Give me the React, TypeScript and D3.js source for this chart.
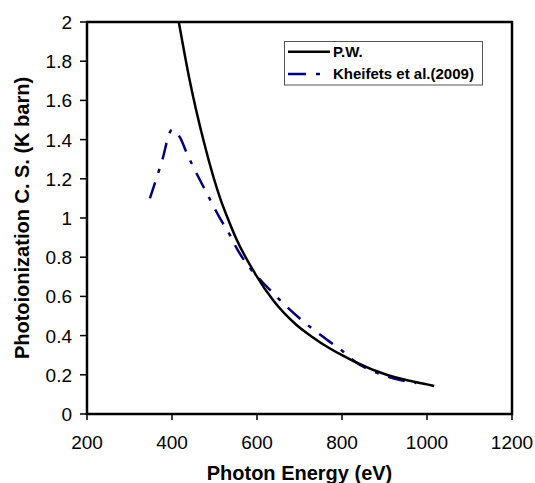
import React from "react";
import * as d3 from "d3";

const pwEnergy = [416, 440, 476, 515, 529, 552, 595, 638, 693, 732, 748, 800, 827, 905, 1000, 1017];
const pwValue = [2.0, 1.72, 1.38, 1.09, 1.01, 0.89, 0.718, 0.58, 0.454, 0.39, 0.366, 0.3, 0.27, 0.2, 0.151, 0.143];

const khEnergy = [348, 375, 400, 419, 435, 482, 513, 537, 548, 585, 623, 678, 729, 764, 803, 831, 885, 937, 975];
const khValue = [1.1, 1.28, 1.45, 1.41, 1.33, 1.126, 0.998, 0.91, 0.862, 0.74, 0.65, 0.531, 0.437, 0.38, 0.318, 0.267, 0.208, 0.173, 0.158];

const xTicks = [200, 400, 600, 800, 1000, 1200];
const yTicks = [0, 0.2, 0.4, 0.6, 0.8, 1, 1.2, 1.4, 1.6, 1.8, 2];

const seriesNames = ["P.W.", "Kheifets et al.(2009)"];
const xTitle = "Photon Energy (eV)";
const yTitle = "Photoionization C. S. (K barn)";

const W = 535;
const H = 483;
const left = 87;
const right = 512;
const top = 22;
const bottom = 414;
const FONT = "'Liberation Sans', Arial, sans-serif";
const NAVY = "#000080";
const DASH = "17,10,4,10";

export default function App() {
  const x = d3.scaleLinear().domain([200, 1200]).range([left, right]);
  const y = d3.scaleLinear().domain([0, 2]).range([bottom, top]);

  const line = d3
    .line<[number, number]>()
    .x((d) => x(d[0]))
    .y((d) => y(d[1]))
    .curve(d3.curveMonotoneX);

  const pwData = pwEnergy.map((e, i) => [e, pwValue[i]] as [number, number]);
  const khData = khEnergy.map((e, i) => [e, khValue[i]] as [number, number]);

  return (
    <svg
      width={W}
      height={H}
      style={{ position: "absolute", left: 0, top: 0, background: "#fff" }}
      fontFamily={FONT}
    >
      <rect x={0} y={0} width={W} height={H} fill="#fff" />
      {yTicks.map((t) => (
        <g key={"y" + t}>
          <line x1={80} x2={left} y1={y(t)} y2={y(t)} stroke="#000" strokeWidth={1.5} />
          <text x={72} y={y(t) + 7} textAnchor="end" fontSize={19} fill="#000">
            {String(+t.toFixed(1))}
          </text>
        </g>
      ))}
      {xTicks.map((t) => (
        <g key={"x" + t}>
          <line x1={x(t)} x2={x(t)} y1={bottom} y2={bottom + 6} stroke="#000" strokeWidth={1.5} />
          <text x={x(t)} y={449} textAnchor="middle" fontSize={19} fill="#000">
            {t}
          </text>
        </g>
      ))}
      <path d={line(khData) || ""} fill="none" stroke={NAVY} strokeWidth={2.5} strokeDasharray={DASH} />
      <path d={line(pwData) || ""} fill="none" stroke="#000" strokeWidth={2.5} />
      <rect x={left} y={top} width={right - left} height={bottom - top} fill="none" stroke="#000" strokeWidth={2.5} />
      <rect x={284.5} y={41.5} width={198} height={43.5} fill="#fff" stroke="#555" strokeWidth={1} />
      <line x1={288} x2={330} y1={51.7} y2={51.7} stroke="#000" strokeWidth={2.5} />
      <text x={333} y={57.3} fontSize={15} fontWeight="bold" fill="#000">
        {seriesNames[0]}
      </text>
      <line x1={288} x2={330} y1={74} y2={74} stroke={NAVY} strokeWidth={2.5} strokeDasharray="18,10,4,10" />
      <text x={333} y={79.3} fontSize={15} fontWeight="bold" fill="#000">
        {seriesNames[1]}
      </text>
      <text x={(left + right) / 2} y={480} textAnchor="middle" fontSize={20} fontWeight="bold" fill="#000">
        {xTitle}
      </text>
      <text
        transform={`translate(28.5, ${(top + bottom) / 2}) rotate(-90)`}
        textAnchor="middle"
        fontSize={20}
        fontWeight="bold"
        fill="#000"
      >
        {yTitle}
      </text>
    </svg>
  );
}
